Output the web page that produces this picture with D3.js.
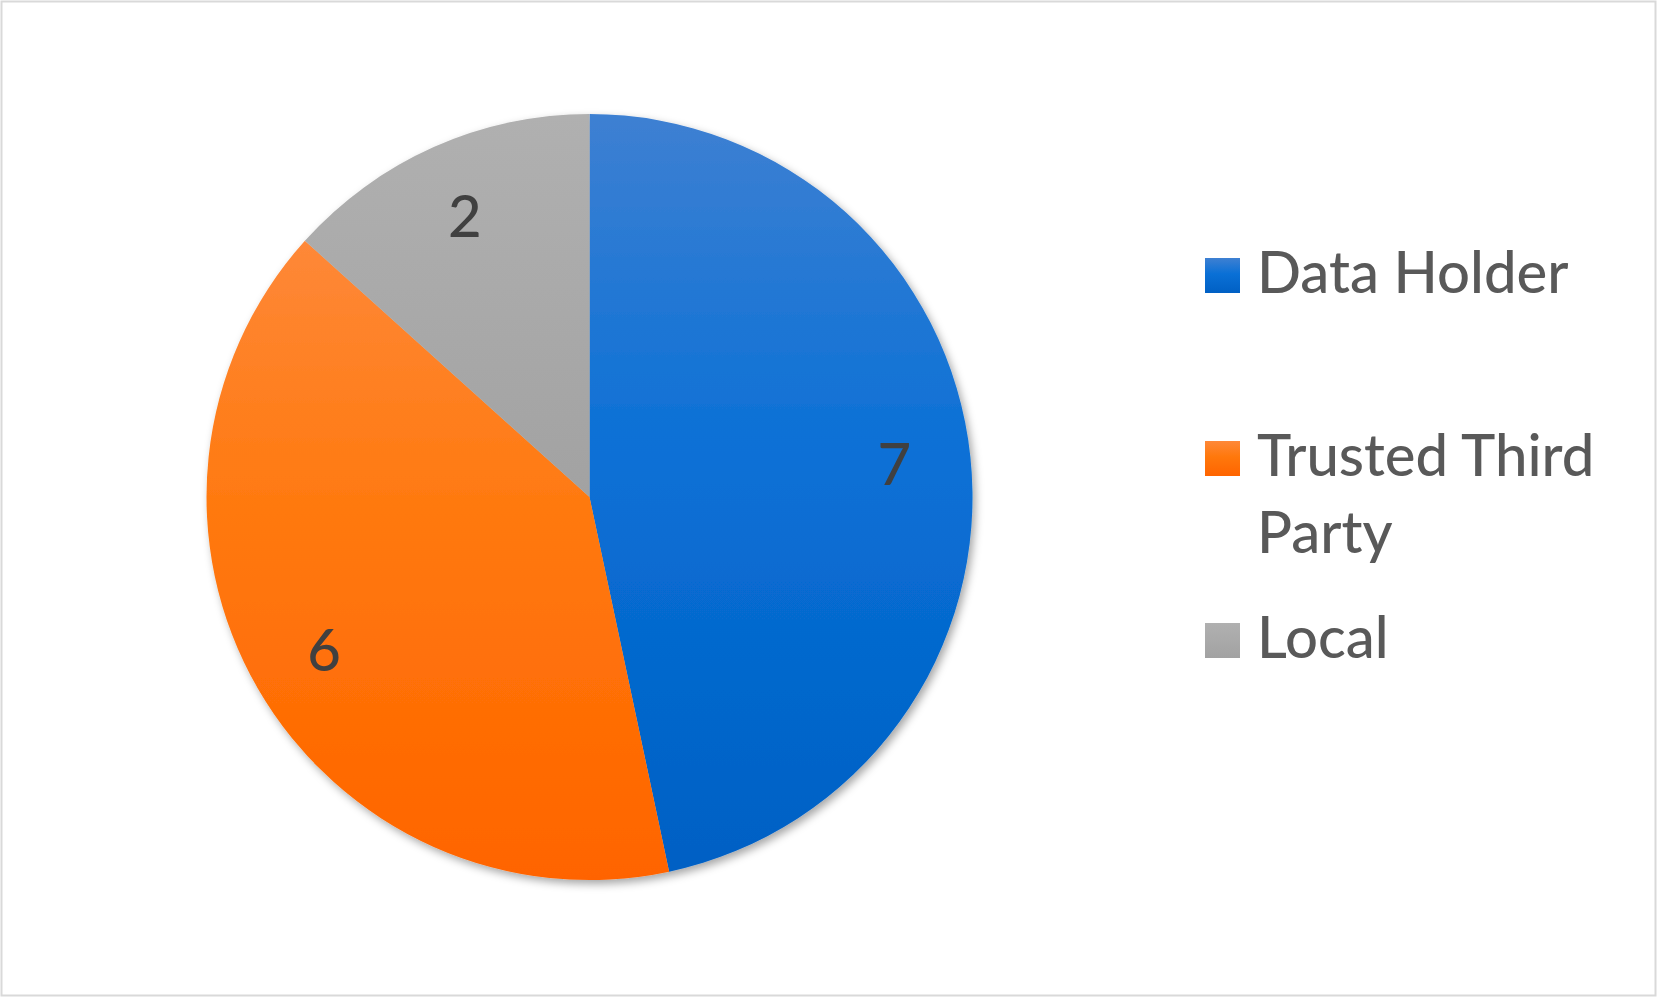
<!DOCTYPE html>
<html>
<head>
<meta charset="utf-8">
<script src="https://cdn.jsdelivr.net/npm/d3@7"></script>
<style>
  html, body { margin: 0; padding: 0; background: #fff; }
  svg { display: block; }
</style>
</head>
<body>
<div id="container"></div>
<script>
// Data
const categories = ["Data Holder", "Trusted Third Party", "Local"];
const values = [7, 6, 2];
const legendLines = [["Data Holder"], ["Trusted Third", "Party"], ["Local"]];

// colours: [top, middle, bottom] of each slice's gradient
const colors = [
  ["#3e80d2", "#0a70d6", "#0060c4"],
  ["#fe8838", "#ff780c", "#ff6400"],
  ["#b0b0b0", "#aaaaaa", "#a2a2a2"]
];

const W = 1659, H = 999;
const cx = 589.5, cy = 497, r = 383;

const svg = d3.select("#container")
  .append("svg")
  .attr("width", W)
  .attr("height", H);

const defs = svg.append("defs");

// soft shadow like the office chart
const shadow = defs.append("filter")
  .attr("id", "shadow")
  .attr("x", "-10%").attr("y", "-10%")
  .attr("width", "120%").attr("height", "120%");
shadow.append("feDropShadow")
  .attr("dx", 3).attr("dy", 4)
  .attr("stdDeviation", 4)
  .attr("flood-color", "#000")
  .attr("flood-opacity", 0.35);

colors.forEach((c, i) => {
  const g = defs.append("linearGradient")
    .attr("id", `grad${i}`)
    .attr("x1", 0).attr("y1", 0).attr("x2", 0).attr("y2", 1);
  g.append("stop").attr("offset", "0%").attr("stop-color", c[0]);
  g.append("stop").attr("offset", "45%").attr("stop-color", c[1]);
  g.append("stop").attr("offset", "100%").attr("stop-color", c[2]);
});

// outer frame
svg.append("rect")
  .attr("x", 1.5).attr("y", 1.5)
  .attr("width", W - 5).attr("height", H - 5)
  .attr("fill", "#fff")
  .attr("stroke", "#d9d9d9")
  .attr("stroke-width", 2);

const pie = d3.pie().sort(null).value(d => d);
const arcs = pie(values);
const arc = d3.arc().innerRadius(0).outerRadius(r);
const labelArc = d3.arc().innerRadius(r * 0.8).outerRadius(r * 0.8);

const pieG = svg.append("g")
  .attr("transform", `translate(${cx},${cy})`);

pieG.append("g")
  .attr("filter", "url(#shadow)")
  .selectAll("path")
  .data(arcs)
  .join("path")
  .attr("d", arc)
  .attr("fill", (d, i) => `url(#grad${i})`);

// data labels
pieG.selectAll("text.value")
  .data(arcs)
  .join("text")
  .attr("class", "value")
  .attr("transform", d => `translate(${labelArc.centroid(d)})`)
  .attr("text-anchor", "middle")
  .attr("dy", "0.35em")
  .attr("font-family", "Lato, 'Open Sans', sans-serif")
  .attr("font-size", 58)
  .attr("font-weight", 500)
  .attr("fill", "#404040")
  .text(d => d.data);

// legend
const legendX = 1205;
const legendY = [293, 476, 658];
const lineGap = 77;

const legend = svg.append("g")
  .selectAll("g")
  .data(categories)
  .join("g")
  .attr("transform", (d, i) => `translate(${legendX},${legendY[i]})`);

legend.append("rect")
  .attr("x", 0).attr("y", -35)
  .attr("width", 35).attr("height", 35)
  .attr("fill", (d, i) => `url(#grad${i})`);

legend.append("text")
  .attr("font-family", "Lato, 'Open Sans', sans-serif")
  .attr("font-size", 58)
  .attr("font-weight", 500)
  .attr("fill", "#595959")
  .selectAll("tspan")
  .data((d, i) => legendLines[i])
  .join("tspan")
  .attr("x", 52)
  .attr("y", (d, j) => j * lineGap)
  .text(d => d);
</script>
</body>
</html>
